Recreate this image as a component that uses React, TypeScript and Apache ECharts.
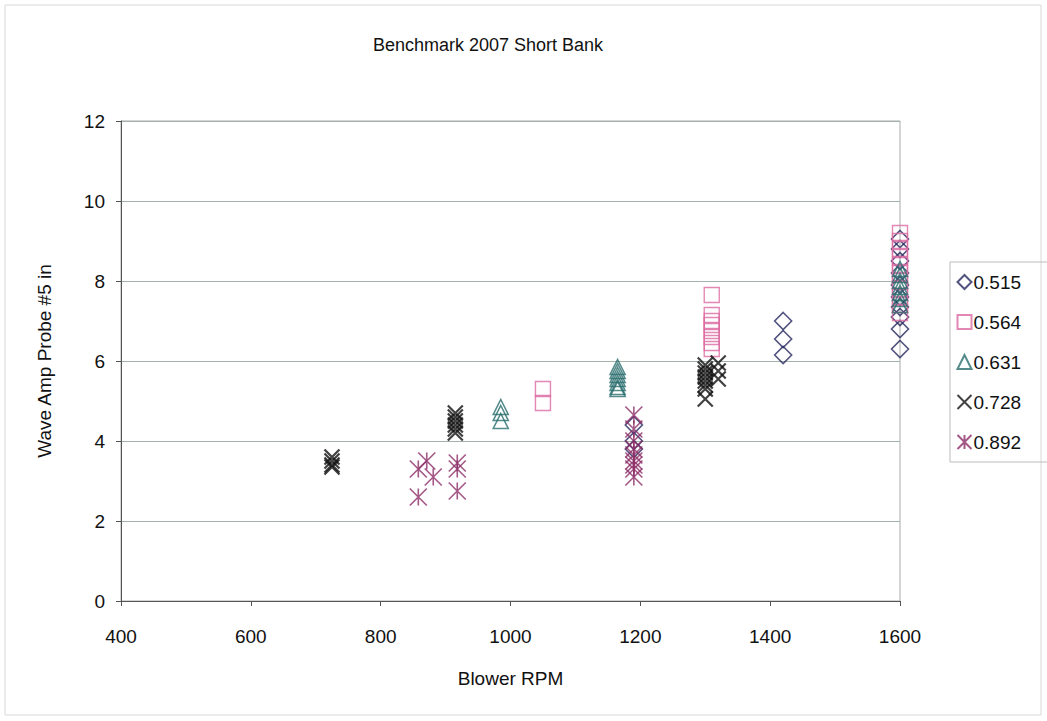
import React, { useEffect, useRef } from "react";
import * as echarts from "echarts";

const titleText = "Benchmark 2007 Short Bank";
const xName = "Blower RPM";
const yName = "Wave Amp Probe #5 in";
const seriesNames = ["0.515", "0.564", "0.631", "0.728", "0.892"];

const s515 = [
  [1190, 4.4], [1190, 4.0], [1190, 3.8],
  [1420, 7.0], [1420, 6.55], [1420, 6.15],
  [1600, 9.05], [1600, 8.8], [1600, 8.5], [1600, 8.2], [1600, 7.9], [1600, 7.6],
  [1600, 7.35], [1600, 7.1], [1600, 6.8], [1600, 6.3],
];
const s564 = [
  [1050, 5.3], [1050, 4.95],
  [1310, 7.65], [1310, 7.15], [1310, 7.0], [1310, 6.9], [1310, 6.75], [1310, 6.6],
  [1310, 6.45], [1310, 6.3],
  [1600, 9.2], [1600, 9.0], [1600, 8.8], [1600, 8.6], [1600, 8.4], [1600, 8.2],
  [1600, 8.0], [1600, 7.8], [1600, 7.6], [1600, 7.4], [1600, 7.2],
];
const s631 = [
  [985, 4.85], [985, 4.7], [985, 4.5],
  [1165, 5.85], [1165, 5.75], [1165, 5.65], [1165, 5.55], [1165, 5.45], [1165, 5.35], [1165, 5.3],
  [1600, 8.3], [1600, 8.15], [1600, 8.0], [1600, 7.85], [1600, 7.7], [1600, 7.55], [1600, 7.4],
];
const s728 = [
  [725, 3.6], [725, 3.5], [725, 3.4], [725, 3.35],
  [915, 4.7], [915, 4.6], [915, 4.5], [915, 4.4], [915, 4.3], [915, 4.2],
  [1300, 5.9], [1300, 5.8], [1300, 5.7], [1300, 5.6], [1300, 5.5], [1300, 5.4], [1300, 5.3], [1300, 5.05],
  [1320, 5.95], [1320, 5.75], [1320, 5.55],
];
const s892 = [
  [858, 3.3], [858, 2.6], [871, 3.5], [881, 3.1],
  [918, 3.45], [918, 3.3], [918, 2.75],
  [1190, 4.65], [1190, 4.3], [1190, 4.0], [1190, 3.8], [1190, 3.65], [1190, 3.5],
  [1190, 3.4], [1190, 3.3], [1190, 3.1],
];

const FONT = "Liberation Sans, Arial, sans-serif";

export default function App() {
  const ref = useRef<HTMLDivElement>(null);
  useEffect(() => {
    document.body.style.margin = "0";
    const chart = echarts.init(ref.current!, null, { renderer: "svg" });
    const mk = (name: string, data: number[][], symbol: string, size: number, color: string, bw: number) => ({
      name,
      type: "scatter",
      data,
      symbol,
      symbolSize: size,
      itemStyle: { color: "none", borderColor: color, borderWidth: bw },
    });
    chart.setOption({
      animation: false,
      backgroundColor: "#fff",
      textStyle: { fontFamily: FONT },
      graphic: [
        {
          type: "rect",
          shape: { x: 5, y: 5, width: 1036, height: 710 },
          style: { fill: "none", stroke: "#d8d8d8", lineWidth: 1 },
          silent: true,
        },
        {
          type: "text",
          x: 488,
          y: 45,
          style: {
            text: titleText,
            textAlign: "center",
            textVerticalAlign: "middle",
            font: `18px ${FONT}`,
            fill: "#111",
          },
        },
      ],
      legend: {
        orient: "vertical",
        left: 950,
        top: 262,
        itemGap: 18,
        itemWidth: 14,
        itemHeight: 14,
        padding: [9, 60, 9, 5],
        borderColor: "#bbb",
        borderWidth: 1,
        textStyle: { fontSize: 19, color: "#111", lineHeight: 22, fontFamily: FONT, padding: [0, 0, 0, -3] },
        data: seriesNames,
      },
      grid: {
        left: 121,
        right: 147,
        top: 121,
        bottom: 120,
        show: true,
        borderColor: "#aaa",
        borderWidth: 1,
      },
      xAxis: {
        type: "value",
        min: 400,
        max: 1600,
        interval: 200,
        name: xName,
        nameLocation: "middle",
        nameGap: 68,
        nameTextStyle: { fontSize: 19, color: "#111", fontFamily: FONT },
        axisLine: { lineStyle: { color: "#555", width: 1 } },
        axisTick: { show: true, inside: false, length: 5, lineStyle: { color: "#555" } },
        axisLabel: { fontSize: 19, color: "#111", margin: 26, fontFamily: FONT, formatter: (v: number) => String(v) },
        splitLine: { show: false },
      },
      yAxis: {
        type: "value",
        min: 0,
        max: 12,
        interval: 2,
        name: yName,
        nameLocation: "middle",
        nameGap: 67,
        nameTextStyle: { fontSize: 19, color: "#111", fontFamily: FONT },
        axisLine: { show: true, lineStyle: { color: "#555", width: 1 } },
        axisTick: { show: true, inside: false, length: 5, lineStyle: { color: "#555" } },
        axisLabel: { fontSize: 19, color: "#111", margin: 16, fontFamily: FONT, formatter: (v: number) => String(v) },
        splitLine: { show: true, lineStyle: { color: "#a3b3ac", width: 1 } },
      },
      series: [
        mk("0.515", s515, "diamond", 17, "#27285e", 1.6),
        mk("0.564", s564, "rect", 15, "#dc6aa2", 1.4),
        mk("0.631", s631, "triangle", 15, "#2b6e6e", 1.6),
        mk("0.728", s728, "path://M0,0L16,16M16,0L0,16", 15, "#111111", 2.2),
        mk("0.892", s892, "path://M0,0L16,16M16,0L0,16M8,0L8,16", 17, "#8c2e68", 1.6),
      ],
    });
    return () => chart.dispose();
  }, []);
  return <div ref={ref} style={{ width: 1047, height: 721 }} />;
}
